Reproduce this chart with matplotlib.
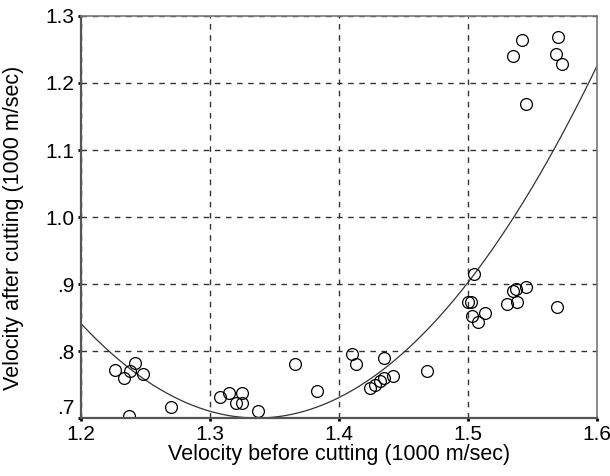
import numpy as np
import matplotlib.pyplot as plt

plt.rcParams['font.family'] = ['Liberation Sans', 'DejaVu Sans']

# скорость до резания и после (1000 m/sec)
before = [1.226, 1.233, 1.238, 1.242, 1.248, 1.237, 1.270,
          1.308, 1.315, 1.320, 1.325, 1.325, 1.337, 1.366, 1.383,
          1.410, 1.413, 1.424, 1.428, 1.432, 1.435, 1.435, 1.442, 1.468,
          1.500, 1.502, 1.503, 1.505, 1.508, 1.513,
          1.530, 1.535, 1.537, 1.538, 1.545, 1.569,
          1.535, 1.542, 1.545, 1.568, 1.570, 1.573]
after = [.772, .760, .770, .782, .765, .703, .717,
         .732, .738, .722, .737, .722, .711, .781, .740,
         .795, .780, .745, .750, .755, .760, .790, .762, .770,
         .873, .873, .852, .915, .843, .856,
         .870, .890, .893, .873, .896, .865,
         1.240, 1.264, 1.168, 1.244, 1.269, 1.228]

xticks = [1.2, 1.3, 1.4, 1.5, 1.6]
xtick_labels = ['1.2', '1.3', '1.4', '1.5', '1.6']
yticks = [.7, .8, .9, 1.0, 1.1, 1.2, 1.3]
ytick_labels = ['.7', '.8', '.9', '1.0', '1.1', '1.2', '1.3']

# квадратичная аппроксимация
coef = np.polyfit(before, after, 2)
xx = np.linspace(1.2, 1.6, 200)
yy = np.polyval(coef, xx)

fig = plt.figure(figsize=(6.1, 4.76), dpi=100)
ax = fig.add_axes([0.1328, 0.1218, 0.8459, 0.8446])

ax.plot(xx, yy, color='#333333', lw=0.9)
ax.plot(before, after, 'o', mfc='none', mec='black', ms=8.5, mew=0.9)

ax.set_xlim(1.2, 1.6)
ax.set_ylim(0.7, 1.3)
ax.set_xticks(xticks)
ax.set_xticklabels(xtick_labels)
ax.set_yticks(yticks)
ax.set_yticklabels(ytick_labels)
ax.tick_params(labelsize=15, length=2, width=2, direction='out', pad=3)
ax.get_yticklabels()[0].set_va('bottom')
ax.grid(True, color='#333333', linestyle=(0, (4, 4)), lw=1.0)

for s in ['left', 'bottom']:
    ax.spines[s].set_color('#555555')
    ax.spines[s].set_linewidth(1.6)
for s in ['top', 'right']:
    ax.spines[s].set_color('#777777')
    ax.spines[s].set_linewidth(1.2)

ax.set_xlabel('Velocity before cutting (1000 m/sec)', fontsize=15.5, labelpad=0)
ax.set_ylabel('Velocity after cutting (1000 m/sec)', fontsize=15.5)
ax.yaxis.set_label_coords(-0.11, 0.473)

fig.savefig('out.png', dpi=100)
